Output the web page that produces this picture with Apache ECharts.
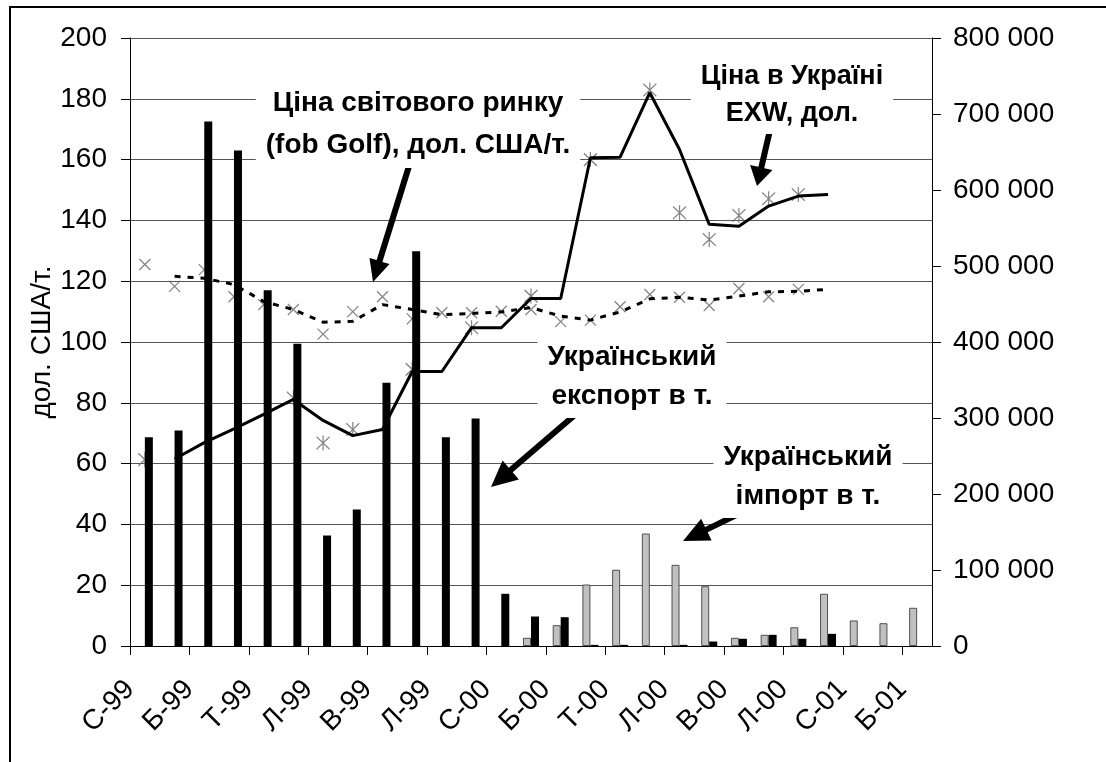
<!DOCTYPE html>
<html><head><meta charset="utf-8">
<script src="https://cdn.jsdelivr.net/npm/echarts@6/dist/echarts.min.js"></script>
<style>html,body{margin:0;padding:0;background:#fff}#c{width:1106px;height:762px}</style>
</head><body><div id="c"></div>
<script>
// Months Jan-99 .. Mar-01 (Ukrainian abbreviations)
const categories = ['С-99','Л-99','Б-99','К-99','Т-99','Ч-99','Л-99','С-99','В-99','Ж-99','Л-99','Г-99',
                    'С-00','Л-00','Б-00','К-00','Т-00','Ч-00','Л-00','С-00','В-00','Ж-00','Л-00','Г-00',
                    'С-01','Л-01','Б-01'];
// every second month is labelled on the axis
const tickIndices = [0,2,4,6,8,10,12,14,16,18,20,22,24,26];

// Ukrainian export, t (right axis)
const exportT = [274700,283600,690000,652000,468000,397600,145400,179600,346300,519500,274700,299300,
                 68700,38800,37900,1500,1500,null,1500,5900,9500,14700,9500,16000,null,null,null];
// Ukrainian import, t (right axis)
const importT = [null,null,null,null,null,null,null,null,null,null,null,null,
                 null,10800,27400,80900,100300,148000,106800,78700,10800,14700,24700,68700,33600,30000,50300];
// World market price (fob Gulf), USD/t  – markers
const worldPrice = [125.5,118.3,123.8,114.9,112.3,110.7,102.6,110.0,114.9,107.6,109.6,109.6,
                    110.1,110.7,106.7,107.2,111.6,115.6,114.7,112.0,117.6,114.9,117.3,null,null,null,null];
// World market price trend line (dashed)
const worldTrend = [null,121.6,121.0,118.9,113.3,110.7,106.5,106.8,112.3,110.7,109.0,109.4,
                    109.9,111.3,108.5,107.2,109.9,114.2,114.7,113.8,115.1,116.5,116.7,117.3,null,null,null];
// Price in Ukraine EXW, USD – markers
const uaPrice = [61.3,null,null,null,null,81.6,66.8,71.2,null,91.0,null,104.7,
                 null,115.1,null,160.0,null,182.9,142.5,133.7,141.6,147.1,148.5,null,null,null,null];
// Price in Ukraine trend line (solid)
const uaTrend = [null,61.5,66.9,71.4,76.2,81.1,74.2,69.2,71.2,90.3,90.3,104.7,
                 104.7,114.3,114.3,160.6,160.8,182.0,163.3,138.7,138.1,144.7,148.0,148.5,null,null,null];

const FONT = "'Liberation Sans', Arial, sans-serif";
const chart = echarts.init(document.getElementById('c'), null, {renderer:'canvas'});

function arrow(tail, tip, headLen, headW, shaftW){
  const dx = tip[0]-tail[0], dy = tip[1]-tail[1];
  const L = Math.hypot(dx,dy), ux = dx/L, uy = dy/L, px = -uy, py = ux;
  const bx = tip[0]-ux*headLen, by = tip[1]-uy*headLen;
  const s = shaftW/2, h = headW/2;
  return {type:'polygon', z:100, silent:true,
    shape:{points:[[tail[0]+px*s,tail[1]+py*s],[bx+px*s,by+py*s],[bx+px*h,by+py*h],tip,
                   [bx-px*h,by-py*h],[bx-px*s,by-py*s],[tail[0]-px*s,tail[1]-py*s]]},
    style:{fill:'#000'}};
}
function label(x, y, text, size, lh){
  return {type:'text', z:110, x:x, y:y, silent:true,
    style:{text:text, font:"bold " + size + "px " + FONT, fill:'#000', align:'center', verticalAlign:'middle',
           lineHeight:lh, backgroundColor:'#fff', padding:[2,10]}};
}

const X = 'path://M0,0L10,10M10,0L0,10';
const STAR = 'path://M0,0L10,10M10,0L0,10M5,-1L5,11';
const spaced = v => String(v).replace(/\B(?=(\d{3})+(?!\d))/g,' ');

chart.setOption({
  animation:false,
  backgroundColor:'#fff',
  grid:{left:130, right:174, top:38, bottom:116},
  xAxis:[
    {type:'category', data:categories, show:false, boundaryGap:true},
    {type:'value', min:0, max:categories.length, position:'bottom',
     axisLine:{show:true, onZero:false, lineStyle:{color:'#000', width:1}},
     axisTick:{show:true, customValues:tickIndices, length:9, lineStyle:{color:'#000'}},
     axisLabel:{show:true, customValues:tickIndices, rotate:45, margin:39,
       formatter:v => categories[v] || '', fontSize:28, color:'#000', fontFamily:FONT},
     splitLine:{show:false}}
  ],
  yAxis:[
    {type:'value', min:0, max:200, interval:20, position:'left',
     name:'дол. США/т.', nameLocation:'middle', nameGap:88, nameRotate:90, nameMoveOverlap:false,
     nameTextStyle:{fontSize:28, color:'#000', fontFamily:FONT, verticalAlign:'middle'},
     axisLine:{show:true, onZero:false, lineStyle:{color:'#000'}},
     axisTick:{show:true, length:9, lineStyle:{color:'#000'}},
     axisLabel:{fontSize:28, color:'#000', margin:23, fontFamily:FONT},
     splitLine:{show:true, lineStyle:{color:'#555', width:1}}},
    {type:'value', min:0, max:800000, interval:100000, position:'right',
     axisLine:{show:true, onZero:false, lineStyle:{color:'#000'}},
     axisTick:{show:true, length:9, lineStyle:{color:'#000'}},
     axisLabel:{fontSize:28, color:'#000', margin:21, fontFamily:FONT, formatter:spaced},
     splitLine:{show:false}}
  ],
  series:[
    {type:'scatter', name:'world', xAxisIndex:0, yAxisIndex:0, data:worldPrice, z:1,
     symbol:X, symbolSize:11, itemStyle:{color:'rgba(0,0,0,0)', borderColor:'#666', borderWidth:1.3}},
    {type:'scatter', name:'ua', xAxisIndex:0, yAxisIndex:0, data:uaPrice, z:1,
     symbol:STAR, symbolSize:[13,15], itemStyle:{color:'rgba(0,0,0,0)', borderColor:'#666', borderWidth:1.3}},
    {type:'bar', name:'import', xAxisIndex:0, yAxisIndex:1, data:importT, z:2,
     barWidth:8, barGap:'0%', itemStyle:{color:'#c0c0c0', borderColor:'#505050', borderWidth:1}},
    {type:'bar', name:'export', xAxisIndex:0, yAxisIndex:1, data:exportT, z:2,
     barWidth:8, barGap:'0%', itemStyle:{color:'#000'}},
    {type:'line', name:'worldTrend', xAxisIndex:0, yAxisIndex:0, data:worldTrend, z:3,
     showSymbol:false, lineStyle:{color:'#000', width:3, type:[6,7]}},
    {type:'line', name:'uaTrend', xAxisIndex:0, yAxisIndex:0, data:uaTrend, z:3,
     showSymbol:false, lineStyle:{color:'#000', width:3}}
  ],
  graphic:[
    {type:'rect', z:0, silent:true, shape:{x:10, y:7, width:1120, height:800}, style:{fill:'none', stroke:'#000', lineWidth:2}},
    label(418, 124, 'Ціна світового ринку\n(fob Golf), дол. США/т.', 28, 42),
    label(792, 95, 'Ціна в Україні\nEXW, дол.', 27, 37),
    label(632, 377, 'Український\nекспорт в т.', 28, 39),
    label(808, 477, 'Український\nімпорт в т.', 28, 39),
    arrow([414,150],[373,282],22,21,6),
    arrow([770,130],[757,186],19,23,6),
    arrow([576,414],[491,487],26,25,6),
    arrow([757,505],[683,541],26,24,6)
  ]
});
</script></body></html>
